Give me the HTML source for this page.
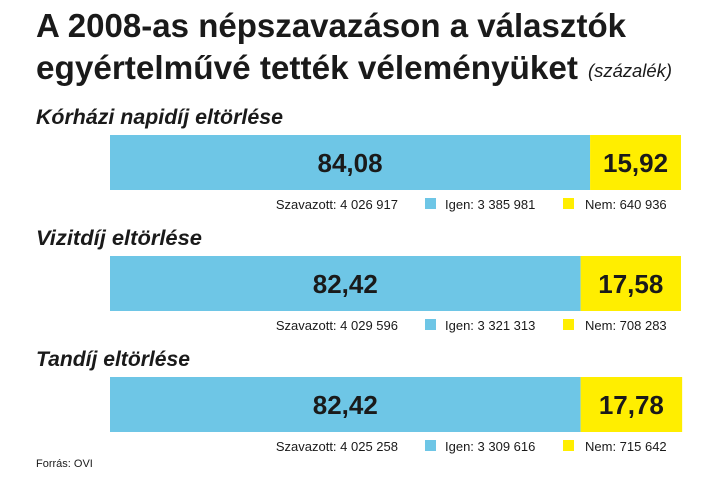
<!DOCTYPE html>
<html><head><meta charset="utf-8"><style>
body{margin:0;background:#fff;width:720px;height:480px;overflow:hidden}
svg{display:block}
text{font-family:"Liberation Sans Narrow","Liberation Sans",sans-serif;fill:#1a1a1a}
</style></head><body>
<svg id="chart" width="720" height="480">
<text x="36" y="37" font-size="33" font-weight="bold" textLength="590" lengthAdjust="spacingAndGlyphs">A 2008-as népszavazáson a választók</text>
<text x="36" y="79" font-size="33" font-weight="bold" textLength="542" lengthAdjust="spacingAndGlyphs">egyértelművé tették véleményüket</text>
<text x="588" y="77" font-size="18" font-style="italic" textLength="84" lengthAdjust="spacingAndGlyphs">(százalék)</text>
<g id="bars"></g>
<text x="36" y="467" font-size="11">Forrás: OVI</text>
</svg>
<script>
const categories=["Kórházi napidíj eltörlése","Vizitdíj eltörlése","Tandíj eltörlése"];
const yesPct=[84.08,82.42,82.42];
const noPct=[15.92,17.58,17.78];
const yesLabels=["84,08","82,42","82,42"];
const noLabels=["15,92","17,58","17,78"];
const voted=["4 026 917","4 029 596","4 025 258"];
const yesVotes=["3 385 981","3 321 313","3 309 616"];
const noVotes=["640 936","708 283","715 642"];
const titleW=[247,166,154];
const NS="http://www.w3.org/2000/svg";
const g=document.getElementById('bars');
const x0=110,x1=681;
const xs=v=>x0+v/100*(x1-x0);
function el(t,a,txt){const e=document.createElementNS(NS,t);for(const k in a)e.setAttribute(k,a[k]);if(txt!==undefined)e.textContent=txt;g.appendChild(e);return e;}
categories.forEach((c,i)=>{
 const top=135+i*121;
 let e=el('text',{x:36,y:top-11,'font-size':21,'font-weight':'bold','font-style':'italic',textLength:titleW[i],lengthAdjust:'spacingAndGlyphs'},c);
 
 
 const xe=xs(yesPct[i]);
 e=el('rect',{x:x0,y:top,width:xe-x0,height:55,fill:'#6ec6e6'});
 
 
 const xn=xs(yesPct[i]+noPct[i]);
 e=el('rect',{x:xe,y:top,width:xn-xe,height:55,fill:'#ffee00'});
 
 
 e=el('text',{x:(x0+xe)/2,y:top+37,'font-size':26,'font-weight':'bold','text-anchor':'middle'},yesLabels[i]);
 
 
 e=el('text',{x:(xe+xn)/2,y:top+37,'font-size':26,'font-weight':'bold','text-anchor':'middle'},noLabels[i]);
 
 
 const ly=top+74;
 e=el('text',{x:398,y:ly,'font-size':13,'text-anchor':'end'},'Szavazott: '+voted[i]);
 
 
 e=el('rect',{x:425,y:ly-11,width:11,height:11,fill:'#6ec6e6'});
 
 
 e=el('text',{x:445,y:ly,'font-size':13},'Igen: '+yesVotes[i]);
 
 
 e=el('rect',{x:563,y:ly-11,width:11,height:11,fill:'#ffee00'});
 
 
 e=el('text',{x:585,y:ly,'font-size':13},'Nem: '+noVotes[i]);
 
 
});
</script>
</body></html>
